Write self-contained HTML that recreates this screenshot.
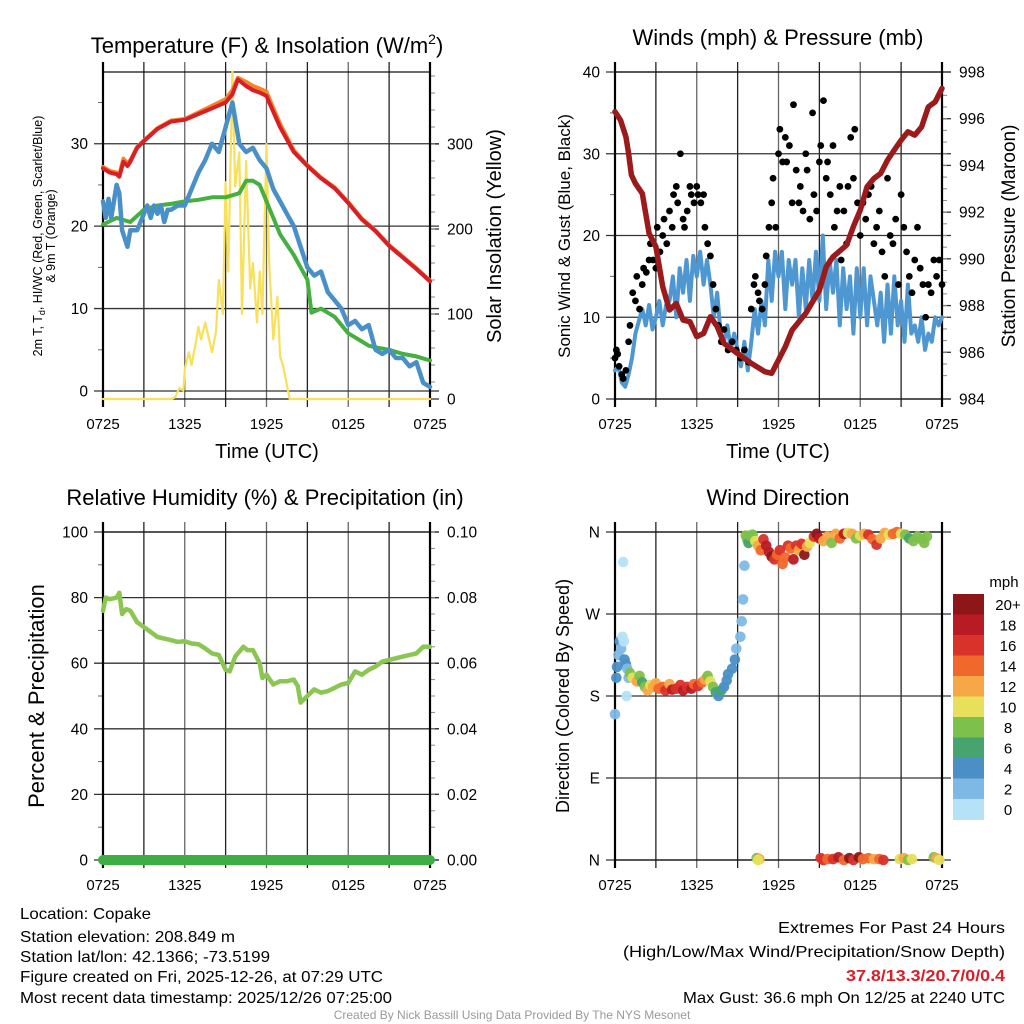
<!DOCTYPE html>
<html><head><meta charset="utf-8">
<style>
html,body{margin:0;padding:0;background:#fff;}
svg{display:block;font-family:"Liberation Sans",Arial,sans-serif;}
</style></head>
<body>
<svg id="fig" width="1024" height="1024" viewBox="0 0 1024 1024" xmlns="http://www.w3.org/2000/svg">
<rect width="1024" height="1024" fill="#fff"/>
<g id="layer"></g>
<!-- Titles -->
<text x="267" y="53" font-size="22" text-anchor="middle">Temperature (F) &amp; Insolation (W/m<tspan font-size="14" dy="-9">2</tspan><tspan dy="9">)</tspan></text>
<text x="778" y="45" font-size="22" text-anchor="middle">Winds (mph) &amp; Pressure (mb)</text>
<text x="265" y="505" font-size="22" text-anchor="middle">Relative Humidity (%) &amp; Precipitation (in)</text>
<text x="778" y="505" font-size="22" text-anchor="middle">Wind Direction</text>
<!-- axis titles -->
<text x="267" y="458" font-size="20" text-anchor="middle">Time (UTC)</text>
<text x="778" y="458" font-size="20" text-anchor="middle">Time (UTC)</text>
<text transform="translate(42,236) rotate(-90)" font-size="12.5" text-anchor="middle">2m T, T<tspan font-size="9" dy="3">d</tspan><tspan dy="-3">, HI/WC (Red, Green, Scarlet/Blue)</tspan></text>
<text transform="translate(55,236) rotate(-90)" font-size="12.5" text-anchor="middle">&amp; 9m T (Orange)</text>
<text transform="translate(501,236) rotate(-90)" font-size="20" text-anchor="middle">Solar Insolation (Yellow)</text>
<text transform="translate(570,236) rotate(-90)" font-size="17" text-anchor="middle">Sonic Wind &amp; Gust (Blue, Black)</text>
<text transform="translate(1015,236) rotate(-90)" font-size="19" text-anchor="middle">Station Pressure (Maroon)</text>
<text transform="translate(44,696) rotate(-90)" font-size="22" text-anchor="middle">Percent &amp; Precipitation</text>
<text transform="translate(569,696) rotate(-90)" font-size="18" text-anchor="middle">Direction (Colored By Speed)</text>
<!-- footer -->
<g font-size="16">
<text x="20" y="919" textLength="131" lengthAdjust="spacingAndGlyphs">Location: Copake</text>
<text x="20" y="942" textLength="215" lengthAdjust="spacingAndGlyphs">Station elevation: 208.849 m</text>
<text x="20" y="962" textLength="250" lengthAdjust="spacingAndGlyphs">Station lat/lon: 42.1366; -73.5199</text>
<text x="20" y="982" textLength="363" lengthAdjust="spacingAndGlyphs">Figure created on Fri, 2025-12-26, at 07:29 UTC</text>
<text x="20" y="1003" textLength="372" lengthAdjust="spacingAndGlyphs">Most recent data timestamp: 2025/12/26 07:25:00</text>
</g>
<g font-size="16">
<text x="778" y="933" textLength="227" lengthAdjust="spacingAndGlyphs">Extremes For Past 24 Hours</text>
<text x="623" y="957" textLength="382" lengthAdjust="spacingAndGlyphs">(High/Low/Max Wind/Precipitation/Snow Depth)</text>
<text x="846" y="981" fill="#d4202a" font-weight="bold" textLength="159" lengthAdjust="spacingAndGlyphs">37.8/13.3/20.7/0/0.4</text>
<text x="683" y="1003" textLength="322" lengthAdjust="spacingAndGlyphs">Max Gust: 36.6 mph On 12/25 at 2240 UTC</text>
</g>
<text x="512" y="1019" font-size="12" fill="#999" text-anchor="middle">Created By Nick Bassill Using Data Provided By The NYS Mesonet</text>
</svg>
<script>
// ---------- DATA ----------
const tempH = [0,0.5,1,1.2,1.5,1.8,2,2.5,3,4,5,6,7,8,9,9.5,9.9,10.5,11,11.5,12,12.2,13,14,15,16,17,18,19,20,21,22,23,24];
const tempRed = [27,26.5,26.3,26,27.8,27.3,27.8,29.5,30.3,31.8,32.7,32.9,33.6,34.3,35,36,37.8,37,36.5,36.2,35.8,35,32,29,27.3,25.8,24.6,22.8,20.8,19.4,17.6,16.2,14.8,13.3];
const tempOrange = [27.2,26.7,26.5,26.2,28.2,27.6,28,29.6,30.4,31.9,32.8,33,33.8,34.6,35.4,36.5,38,37.5,37,36.7,36.3,35.5,32.4,29.2,27.4,25.9,24.7,22.9,20.9,19.5,17.7,16.3,14.9,13.4];
const dewH = [0,0.2,0.4,0.6,1,1.2,1.4,1.8,2,2.5,3,3.25,3.5,3.75,4,4.25,4.5,4.75,5,5.5,6,6.5,7,7.5,8,8.5,9,9.5,10,10.5,11,11.5,12,12.5,13,13.5,14,14.5,15,15.5,16,16.5,17,17.5,18,18.5,19,19.5,20,20.5,21,21.5,22,22.5,23,23.5,24];
const dewBlue = [23,21,23.3,21,25,24,19.5,17.5,19.5,19.5,21.5,22.5,21,22.5,21.5,22.5,20.5,22,22,22.5,22.5,24.5,26.5,28,30,29,32,35,30,29,29.5,28,27,24.5,23,21.5,20,17.5,15,14,14.5,12,11,10,8,8.5,7.5,8,5,4.5,5,4,4,3,3.5,1,0.5];
const greenH = [0,1,2,3,4,5,6,7,8,9,10,10.5,11,11.5,12,12.5,13,14,14.5,15,15.3,16,16.5,17,18,19,19.5,20,21,22,23,24];
const greenT = [20.2,21,20.5,22,22.5,22.7,23,23.2,23.5,23.5,24,25.5,25.5,25,23,21,19,16.5,15,13.5,9.5,10,9.5,9,7,6,5.5,5.3,5,4.5,4.2,3.7];
const solarH = [0,5,5.3,5.6,5.9,6,6.3,6.5,6.8,7,7.2,7.5,8,8.3,8.5,8.8,9,9.2,9.3,9.5,9.7,10,10.2,10.5,10.8,11,11.3,11.5,11.7,12,12.2,12.5,12.8,13,13.2,13.7,24];
const solarW = [0,0,2,13,10,35,55,40,65,85,70,90,55,80,140,100,255,150,230,385,250,290,100,280,130,160,90,150,100,300,160,70,120,50,40,0,0];
const windH = [0,0.25,0.5,0.75,1,1.25,1.5,1.75,2,2.25,2.5,2.75,3,3.25,3.5,3.75,4,4.25,4.5,4.75,5,5.25,5.5,5.75,6,6.25,6.5,6.75,7,7.25,7.5,7.75,8,8.25,8.5,8.75,9,9.25,9.5,9.75,10,10.25,10.5,10.75,11,11.25,11.5,11.75,12,12.25,12.5,12.75,13,13.25,13.5,13.75,14,14.25,14.5,14.75,15,15.25,15.5,15.75,16,16.25,16.5,16.75,17,17.25,17.5,17.75,18,18.25,18.5,18.75,19,19.25,19.5,19.75,20,20.25,20.5,20.75,21,21.25,21.5,21.75,22,22.25,22.5,22.75,23,23.25,23.5,23.75,24];
const windMph = [3.5,4,2,1.5,3,5,8,9.5,11,9,11.5,8.5,10,12,9,11.5,12,15,10,16,13,17,12,17.5,15,18,14,17,14,10,13,8,7,9,6,8,6,4,7,3.5,7,11,8,12,9,17,12,18,15,18,11,17,14,17,10,16,11,17,12,18,12,20,11,17,13,17,9,16,11,15,8,16,10,16,9,15,12,9,13,7,14,8,15,9,12,7,14,8,9,7,10,6,8,7,10,9,10];
const gustH = [0,0.1,0.2,0.3,0.5,0.6,0.8,1.0,1.1,1.3,1.5,1.6,1.8,2.0,2.1,2.3,2.5,2.6,2.8,3.0,3.1,3.3,3.5,3.6,3.8,4.0,4.2,4.3,4.5,4.6,4.8,5.0,5.1,5.3,5.5,5.6,5.8,6.0,6.1,6.3,6.5,6.6,6.8,7.0,7.2,7.4,7.6,7.8,8.0,8.3,8.6,8.9,9.2,9.5,9.8,10.0,10.2,10.3,10.5,10.6,10.8,11.0,11.1,11.3,11.5,11.6,11.8,12.0,12.1,12.3,12.5,12.6,12.8,13.0,13.1,13.3,13.5,13.6,13.8,14.0,14.1,14.3,14.5,14.6,14.8,15.0,15.1,15.3,15.5,15.6,15.8,16.0,16.1,16.3,16.5,16.6,16.8,17.0,17.1,17.3,17.5,17.6,17.8,18.0,18.2,18.4,18.6,18.8,19.0,19.2,19.4,19.6,19.8,20.0,20.2,20.4,20.6,20.8,21.0,21.2,21.4,21.6,21.8,22.0,22.2,22.4,22.6,22.8,23.0,23.2,23.4,23.6,23.8,24.0];
const gustMph = [5,6,5.5,4,3,2.5,3.5,7,9,13,12,15,11,14,16,15.5,17,19,17,16,21,18,20,22,19,23,21,25,26,24,30,22,21,23,26,25,24,26,25,24,25,21,19,17.5,14,11,9,7,8.5,6,7,6,5,6,4.5,11,14,15,13,12,11,14,17.5,21,24,27,21,30,33,29,32,29,31,24,36,28,24,26,23,30,28,22,35,25,23,29,31,36.5,27,29,25,31,21,23,26,17,23,19,26,32,27,33,24,20,24,22,25,26,19,21,23,18,15,27,20,19,22,14,25,21,18,15,13,17,21,16,14,10,14,13,17,15,17,14];
const presH = [0,0.4,0.8,1,1.2,1.5,2,2.5,3,3.5,4,4.5,5,5.5,6,6.5,7,7.5,8,9,10,11,11.5,12,12.5,13,14,15,15.5,16,17,17.5,18,18.5,19,19.5,20,20.5,21,21.5,22,22.5,23,23.5,24];
const presMb = [996.3,995.94,995.23,994.51,993.59,993.23,992.8,991.09,990.52,988.81,987.81,988.09,987.38,987.31,986.67,986.81,987.52,987.1,986.38,985.95,985.53,985.17,985.1,985.67,986.24,986.95,987.67,988.66,989.66,990.09,990.59,991.38,992.09,993.09,993.44,993.66,994.23,994.66,995.08,995.44,995.3,995.65,996.51,996.72,997.3];
const rhH = [0,0.2,0.5,1,1.2,1.4,1.7,2,2.5,3,3.5,4,4.5,5,5.5,6,6.5,7,7.5,8,8.5,9,9.3,9.7,10,10.3,10.6,11,11.5,11.7,12,12.5,13,13.5,14,14.3,14.5,15,15.5,16,16.5,17,17.5,18,18.5,19,19.5,20,20.5,21,22,23,23.5,24];
const rhPct = [76,80,79.5,80,81.5,75,76.5,76,72.5,71,69.5,68,67.5,67,66.5,66.7,66,65.8,64.5,63,62.5,58,57.5,62,63.5,65,64,64,60,55.5,56.5,53.5,54.5,54.5,55,53,48,50,52,51,51.5,52.5,53.5,54,57.5,56.5,58,59,60.5,61,62,63,65,65];
const precipH = [0,24];
const precipIn = [0,0];
const dirH = [0,0.1,0.15,0.25,0.35,0.45,0.55,0.6,0.65,0.7,0.8,0.9,1.0,0.85,1.1,1.3,1.5,1.6,1.8,2.0,2.2,2.4,2.6,2.8,3.0,3.2,3.5,3.7,4.0,4.2,4.5,4.8,5.0,5.3,5.6,5.8,6.1,6.4,6.6,6.8,7.0,7.2,7.4,7.6,7.8,8.0,8.2,8.3,8.6,8.8,8.9,9.2,9.3,9.4,9.5,9.6,9.7,9.8,9.9,10.1,10.3,10.5,10.7,10.9,11.1,11.3,11.5,11.7,11.9,12.1,12.3,12.5,12.7,12.9,13.1,13.3,13.5,13.7,13.9,14.1,14.3,14.6,14.8,15.0,15.3,15.6,15.9,16.2,16.5,16.8,17.1,17.4,17.7,18.0,18.3,18.6,18.9,19.2,19.5,19.8,20.1,20.4,20.7,21.0,21.3,21.6,21.9,22.2,22.5,22.7,22.9,10.4,10.6,10.5,15.1,15.3,15.6,16.0,16.4,16.8,17.2,17.5,17.9,18.2,18.6,19.0,19.4,19.7,20.9,21.2,21.5,21.8,23.4,23.6,23.8];
const dirDeg = [160,200,212,225,240,232,245,327,240,220,215,210,200,180,205,200,198,196,202,195,190,186,192,190,194,188,190,186,193,187,188,192,186,190,188,193,191,195,198,202,196,190,184,180,186,190,197,204,210,220,232,245,262,286,323,356,352,348,356,357,350,345,340,352,345,338,333,330,335,340,325,332,345,342,330,345,340,347,335,344,348,355,358,353,350,355,348,358,353,358,359,358,353,356,358,357,352,346,353,359,357,358,360,358,357,353,350,355,352,348,355,2,1,0,2,0,1,1,3,0,2,0,3,1,2,1,1,0,1,2,0,1,3,2,0];
const dirSpd = [3,4,4,3,4,2,1,0,1,4,4,3,3,1,8,10,10,12,8,6,8,12,10,12,12,14,14,16,12,18,17,16,18,16,18,14,16,14,12,8,10,8,6,4,6,4,4,4,4,4,3,2,2,2,2,8,8,6,8,8,10,12,14,16,18,18,20,17,14,16,14,14,16,14,18,17,12,16,20,12,10,16,20,18,12,12,8,12,14,18,10,12,8,10,12,16,14,16,12,12,10,14,14,10,8,6,8,8,8,8,8,8,12,10,16,16,14,16,18,14,20,16,20,14,14,12,14,16,10,12,8,10,8,12,10];
const speedBins = ["0","2","4","6","8","10","12","14","16","18","20+"];

// ---------- STYLE (not data) ----------
const binColors = ["#b5e2f7","#7db9e4","#4b8fc6","#47a46e","#7dc04b","#e6e05b","#f7a846","#f1682c","#d9322a","#b81b24","#8d1619"];
const NS = "http://www.w3.org/2000/svg";
const layer = document.getElementById('layer');
function mk(tag, attrs, parent){const e=document.createElementNS(NS,tag);for(const k in attrs)e.setAttribute(k,attrs[k]);(parent||layer).appendChild(e);return e;}

const P1={x0:103,x1:430,y0:72,y1:399};
const P2={x0:615,x1:942,y0:72,y1:399};
const P3={x0:103,x1:430,y0:532,y1:860};
const P4={x0:615,x1:942,y0:532,y1:860};
function xs(p){return h=>p.x0+h*(p.x1-p.x0)/24;}
function ys(p,lo,hi){return v=>p.y1-(v-lo)/(hi-lo)*(p.y1-p.y0);}

function grid(p, name, ly, lticks, lfmt, ry, rticks, rfmt, lminor, rminor){
  const g=mk('g',{});
  
  
  const X=xs(p);
  for(let h=3;h<24;h+=3){const x=X(h);const l=mk('line',{x1:x,x2:x,y1:p.y0-10,y2:p.y1+8,stroke:(h%6?'#222':'#666'),'stroke-width':1.3},g);
    
    }
  lticks.forEach(v=>{const y=ly(v);const l=mk('line',{x1:p.x0-9,x2:p.x1+9,y1:y,y2:y,stroke:'#333','stroke-width':1.3},g);
    
    
    const t=mk('text',{x:p.x0-15,y:y+5.5,'font-size':15.5,'text-anchor':'end'},g);t.textContent=lfmt(v);
    
    });
  (lminor||[]).forEach(v=>{const y=ly(v);mk('line',{x1:p.x0-5,x2:p.x0,y1:y,y2:y,stroke:'#666','stroke-width':1},g);});
  if(ry){rticks.forEach(v=>{const y=ry(v);mk('line',{x1:p.x1,x2:p.x1+9,y1:y,y2:y,stroke:'#333','stroke-width':1.3},g);
    const t=mk('text',{x:p.x1+17,y:y+5.5,'font-size':15.5},g);t.textContent=rfmt(v);
    
    });
    (rminor||[]).forEach(v=>{const y=ry(v);mk('line',{x1:p.x1,x2:p.x1+5,y1:y,y2:y,stroke:'#888','stroke-width':1},g);});}
  const labs=["0725","1325","1925","0125","0725"];
  labs.forEach((s,i)=>{const t=mk('text',{x:X(i*6),y:p.y1+30,'font-size':15,'text-anchor':'middle'},g);t.textContent=s;
    
    });
  mk('line',{x1:p.x0,x2:p.x1,y1:p.y0,y2:p.y0,stroke:'#111','stroke-width':1.3},g);
  mk('line',{x1:p.x0,x2:p.x1,y1:p.y1,y2:p.y1,stroke:'#111','stroke-width':1.3},g);
  mk('line',{x1:p.x0,x2:p.x0,y1:p.y0-10,y2:p.y1+8,stroke:'#000','stroke-width':2.2},g);
  mk('line',{x1:p.x1,x2:p.x1,y1:p.y0-10,y2:p.y1+8,stroke:'#000','stroke-width':2.2},g);
}
function line(p,hs,vs,y,color,w,name){
  const X=xs(p);
  const d=hs.map((h,i)=>(i?'L':'M')+X(h).toFixed(1)+','+y(vs[i]).toFixed(1)).join('');
  const e=mk('path',{d:d,fill:'none',stroke:color,'stroke-width':w,'stroke-linejoin':'round','stroke-linecap':'round'});
  
  
  return e;
}
function range(a,b,s){const r=[];for(let v=a;v<=b+1e-9;v+=s)r.push(+v.toFixed(4));return r;}

// Panel 1
const y1L=ys(P1,-0.97,38.7), y1R=ys(P1,0,384.7);
grid(P1,'temperature',y1L,[0,10,20,30],v=>String(v),y1R,[0,100,200,300],v=>String(v),range(5,35,10),range(20,380,20));
line(P1,solarH,solarW,y1R,'#f7e05a',2.2,'solar-insolation-line');
line(P1,greenH,greenT,y1L,'#45b03f',4,'dewpoint-line');
line(P1,dewH,dewBlue,y1L,'#4a90c8',4.5,'windchill-line');
line(P1,tempH,tempOrange,y1L,'#f4862a',4,'temperature-9m-line');
line(P1,tempH,tempRed,y1L,'#d81f26',4,'temperature-2m-line');

// Panel 2
const y2L=ys(P2,0,40), y2R=ys(P2,984,998);
grid(P2,'winds',y2L,[0,10,20,30,40],v=>String(v),y2R,range(984,998,2),v=>String(v),range(5,35,10),range(985,997,0.5));
line(P2,windH,windMph,y2L,'#4f97d1',4,'sonic-wind-line');
(function(){const X=xs(P2);gustH.forEach((h,i)=>{const c=mk('circle',{cx:X(h),cy:y2L(gustMph[i]),r:3.4,fill:'#000'});
  
  });})();
line(P2,presH,presMb,y2R,'#9b1a1c',5.5,'pressure-line');

// Panel 3
const y3L=ys(P3,0,100), y3R=ys(P3,0,0.1);
grid(P3,'humidity',y3L,[0,20,40,60,80,100],v=>String(v),y3R,range(0,0.1,0.02),v=>v.toFixed(2),range(10,90,20),range(0.01,0.1,0.005));
line(P3,rhH,rhPct,y3L,'#8cc652',4.5,'relative-humidity-line');
line(P3,precipH,precipIn,y3R,'#3eae44',10,'precipitation-line');

// Panel 4
const y4=ys(P4,0,360);
grid(P4,'wind-direction',y4,[0,90,180,270,360],v=>({0:'N',90:'E',180:'S',270:'W',360:'N'})[v],null,[],null,[],[]);
(function(){const X=xs(P4);dirH.forEach((h,i)=>{const b=Math.min(10,Math.floor(dirSpd[i]/2));
  const c=mk('circle',{cx:X(h),cy:y4(dirDeg[i]),r:5.3,fill:binColors[b],'fill-opacity':0.95});
  
  });})();

// Colorbar
(function(){const g=mk('g',{});
  
  
  const top=594,h=20.5;
  const t0=mk('text',{x:1004,y:587,'font-size':15,'text-anchor':'middle'},g);t0.textContent='mph';
  
  
  speedBins.forEach((s,i)=>{const k=speedBins.length-1-i;
    const r=mk('rect',{x:953,y:top+i*h,width:31,height:h+0.5,fill:binColors[k]},g);
    
    
    const t=mk('text',{x:1008,y:top+i*h+h/2+5.5,'font-size':15,'text-anchor':'middle'},g);t.textContent=speedBins[k];
    
    });
})();
</script>
</body></html>
